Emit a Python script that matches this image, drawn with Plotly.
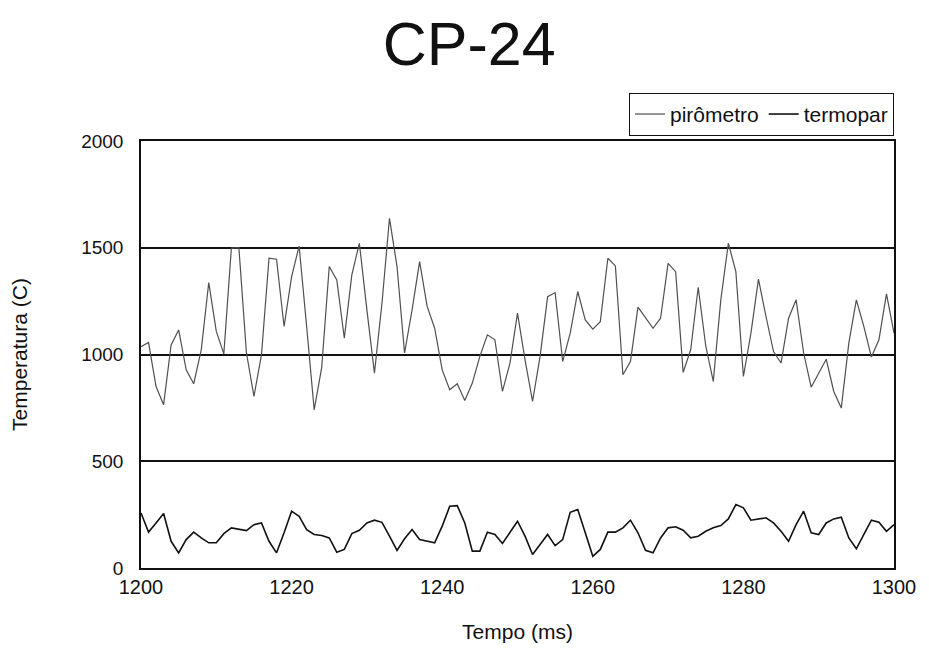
import plotly.graph_objects as go

# Time axis (ms) and the two temperature records (°C)
tempo = list(range(1200, 1301))

pirometro = [
    1037, 1056, 850, 765, 1045, 1115, 928, 863, 1022, 1337,
    1108, 1003, 1498, 1500, 1008, 804, 999, 1451, 1446, 1131,
    1365, 1508, 1130, 741, 940, 1412, 1349, 1077, 1373, 1521,
    1209, 913, 1240, 1638, 1412, 1007, 1209, 1435, 1225, 1123,
    928, 835, 863, 785, 866, 991, 1092, 1069, 827, 960,
    1194, 975, 780, 991, 1271, 1290, 967, 1100, 1295, 1162,
    1119, 1154, 1451, 1415, 905, 967, 1222, 1170, 1123, 1170,
    1427, 1388, 916, 1022, 1315, 1040, 874, 1256, 1521, 1388,
    897, 1100, 1353, 1178, 1014, 960, 1170, 1256, 1007, 847,
    913, 978, 827, 749, 1053, 1256, 1131, 988, 1069, 1284,
    1100,
]

termopar = [
    258, 168, 211, 255, 125, 71, 133, 168, 141, 118,
    118, 161, 188, 180, 175, 203, 211, 125, 71, 165,
    266, 242, 180, 157, 152, 141, 74, 87, 161, 177,
    211, 224, 214, 149, 82, 137, 180, 133, 125, 118,
    196, 289, 292, 211, 79, 79, 168, 157, 115, 168,
    219, 149, 63, 110, 157, 105, 133, 261, 274, 165,
    55, 87, 168, 168, 188, 224, 165, 83, 71, 141,
    188, 193, 177, 141, 149, 172, 188, 199, 230, 297,
    282, 224, 230, 235, 211, 172, 125, 203, 266, 165,
    157, 211, 230, 238, 141, 90, 157, 224, 214, 172,
    203,
]

x_ticks = [1200, 1220, 1240, 1260, 1280, 1300]
y_ticks = [0, 500, 1000, 1500, 2000]

fig = go.Figure()
fig.add_trace(go.Scatter(
    x=tempo, y=pirometro, mode="lines", name="pirômetro",
    line=dict(color="#505050", width=1.2),
))
fig.add_trace(go.Scatter(
    x=tempo, y=termopar, mode="lines", name="termopar",
    line=dict(color="#111111", width=1.6),
))

font_family = "Liberation Sans, Arial, sans-serif"

fig.update_layout(
    width=929, height=653,
    paper_bgcolor="white", plot_bgcolor="white",
    margin=dict(l=141, r=35, t=141, b=85),
    font=dict(family=font_family, color="#111111", size=18),
    title=dict(
        text="CP-24", x=0.505, xanchor="center", y=0.933, yanchor="middle",
        font=dict(family=font_family, size=61, color="#111111"),
    ),
    showlegend=True,
    legend=dict(
        orientation="h", x=1.0, xanchor="right", y=1.012, yanchor="bottom",
        bordercolor="#111111", borderwidth=1, bgcolor="white",
        font=dict(size=21), itemwidth=30, tracegroupgap=0,
    ),
)

fig.update_xaxes(
    range=[1200, 1300], tickvals=x_ticks, ticks="", showgrid=False,
    showline=True, linecolor="#111111", linewidth=1.5, mirror=True,
    tickfont=dict(size=20), zeroline=False, ticklabelstandoff=0,
    title=dict(text="Tempo (ms)", font=dict(size=21), standoff=28),
)
fig.update_yaxes(
    range=[0, 2000], tickvals=y_ticks, ticks="", showgrid=True,
    gridcolor="#111111", gridwidth=1.5,
    showline=True, linecolor="#111111", linewidth=1.5, mirror=True,
    tickfont=dict(size=19), zeroline=False, ticklabelstandoff=12,
    title=dict(text="Temperatura (C)", font=dict(size=21), standoff=48),
)

fig.write_html("out.html")
